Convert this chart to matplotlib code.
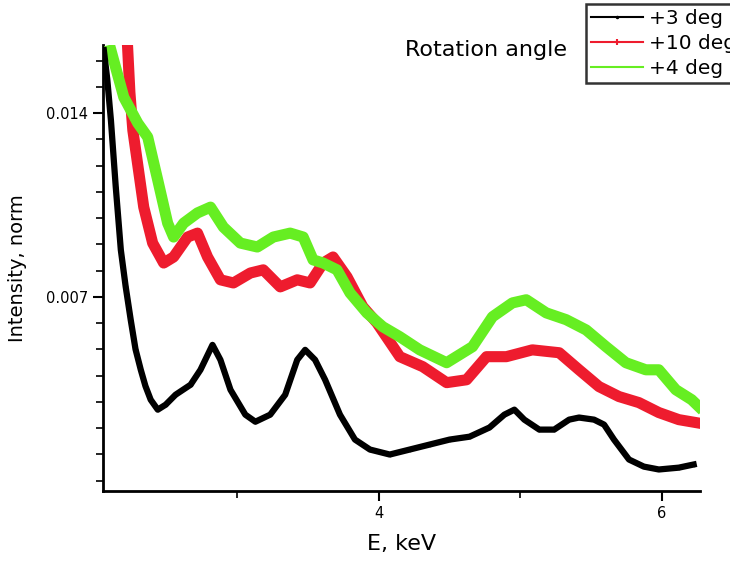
import matplotlib
matplotlib.use("Agg")
import matplotlib.pyplot as plt
from matplotlib.ticker import MultipleLocator, FixedLocator

# Energy (keV) and normalized intensity
e_3deg = [2.056, 2.08, 2.106, 2.14, 2.176, 2.21, 2.246, 2.28, 2.317, 2.35, 2.387, 2.437,
          2.493, 2.563, 2.669, 2.739, 2.824, 2.880, 2.951, 3.056, 3.127, 3.232, 3.338,
          3.423, 3.479, 3.549, 3.620, 3.725, 3.831, 3.937, 4.077, 4.218, 4.359, 4.500,
          4.641, 4.782, 4.887, 4.958, 5.028, 5.134, 5.239, 5.345, 5.415, 5.521, 5.592,
          5.662, 5.768, 5.873, 5.979, 6.120, 6.225]
i_3deg = [0.01640, 0.01530, 0.01373, 0.01120, 0.00879, 0.00740, 0.00612, 0.00500, 0.00422,
          0.00360, 0.00308, 0.00270, 0.00289, 0.00327, 0.00365, 0.00422, 0.00517, 0.00460,
          0.00346, 0.00251, 0.00224, 0.00251, 0.00327, 0.00460, 0.00498, 0.00460, 0.00384,
          0.00251, 0.00156, 0.00118, 0.00099, 0.00118, 0.00137, 0.00156, 0.00167, 0.00202,
          0.00251, 0.00270, 0.00232, 0.00194, 0.00194, 0.00232, 0.00240, 0.00232, 0.00213,
          0.00156, 0.00080, 0.00053, 0.00042, 0.00049, 0.00061]

e_10deg = [2.225, 2.240, 2.261, 2.338, 2.401, 2.479, 2.549, 2.648, 2.718, 2.789, 2.880, 2.972,
           3.092, 3.183, 3.303, 3.423, 3.514, 3.606, 3.676, 3.775, 3.887, 3.986, 4.148,
           4.310, 4.479, 4.620, 4.761, 4.901, 5.085, 5.275, 5.415, 5.556, 5.697, 5.838,
           5.979, 6.120, 6.239]
i_10deg = [0.01640, 0.01480, 0.01335, 0.01042, 0.00905, 0.00829, 0.00852, 0.00928, 0.00943,
           0.00852, 0.00765, 0.00753, 0.00791, 0.00803, 0.00738, 0.00765, 0.00753, 0.00829,
           0.00852, 0.00776, 0.00662, 0.00601, 0.00472, 0.00434, 0.00373, 0.00384, 0.00472,
           0.00472, 0.00498, 0.00487, 0.00422, 0.00358, 0.00320, 0.00297, 0.00259, 0.00232,
           0.00221]

e_4deg = [2.106, 2.197, 2.296, 2.366, 2.437, 2.507, 2.549, 2.620, 2.718, 2.810, 2.901,
          3.021, 3.141, 3.254, 3.373, 3.465, 3.535, 3.606, 3.704, 3.796, 3.915, 4.028,
          4.148, 4.289, 4.479, 4.662, 4.803, 4.944, 5.042, 5.183, 5.324, 5.465, 5.606,
          5.746, 5.887, 5.979, 6.099, 6.211, 6.261]
i_4deg = [0.01640, 0.01461, 0.01362, 0.01309, 0.01145, 0.00981, 0.00928, 0.00981, 0.01020,
          0.01042, 0.00966, 0.00905, 0.00890, 0.00928, 0.00943, 0.00928, 0.00841, 0.00829,
          0.00803, 0.00715, 0.00639, 0.00586, 0.00548, 0.00498, 0.00449, 0.00510, 0.00624,
          0.00677, 0.00689, 0.00639, 0.00613, 0.00574, 0.00510, 0.00449, 0.00422, 0.00422,
          0.00346, 0.00308, 0.00282]

series_labels = ["+3 deg", "+10 deg", "+4 deg"]
series_colors = ["#000000", "#ee1c2e", "#66ee22"]

fig = plt.figure(figsize=(7.30, 5.61), dpi=100)
ax = fig.add_axes([103 / 730, 1 - 491 / 561, (700 - 103) / 730, (491 - 45) / 561])

ax.plot(e_10deg, i_10deg, color=series_colors[1], lw=8, solid_joinstyle="round",
        marker="+", ms=4, mew=1.5, label=series_labels[1], zorder=2)
ax.plot(e_4deg, i_4deg, color=series_colors[2], lw=8, solid_joinstyle="round",
        label=series_labels[2], zorder=3)
ax.plot(e_3deg, i_3deg, color=series_colors[0], lw=4.5, solid_joinstyle="round",
        marker=".", ms=3, label=series_labels[0], zorder=4)

ax.set_xlim(2.05, 6.27)
ax.set_ylim(-0.0004, 0.0166)

ax.xaxis.set_major_locator(FixedLocator([4, 6]))
ax.xaxis.set_minor_locator(FixedLocator([3, 5]))
ax.yaxis.set_major_locator(FixedLocator([0.007, 0.014]))
ax.yaxis.set_minor_locator(MultipleLocator(0.001))
ax.set_xticklabels(["4", "6"])
ax.set_yticklabels(["0.007", "0.014"])
ax.tick_params(axis="both", which="major", direction="out", length=7, width=1.5, labelsize=10.5)
ax.tick_params(axis="both", which="minor", direction="out", length=5, width=1.2)

for s in ["top", "right"]:
    ax.spines[s].set_visible(False)
for s in ["left", "bottom"]:
    ax.spines[s].set_linewidth(2)

ax.set_xlabel("E, keV", fontsize=16, labelpad=10)
ax.set_ylabel("Intensity, norm", fontsize=14, labelpad=14)

handles, labels = ax.get_legend_handles_labels()
order = [2, 0, 1]
leg = fig.legend([handles[i] for i in order], [labels[i] for i in order],
                 loc="upper left", bbox_to_anchor=(586 / 730, 1 - 4 / 561),
                 fontsize=14.5, frameon=True, fancybox=False, edgecolor="black",
                 handlelength=2.6, handletextpad=0.3, borderpad=0.25, labelspacing=0.3,
                 borderaxespad=0)
leg.get_frame().set_linewidth(1.8)
for lh in leg.get_lines():
    lh.set_linewidth(1.5)

fig.text(405 / 730, 1 - 50 / 561, "Rotation angle", fontsize=16, va="center", ha="left")

fig.savefig("out.png", dpi=100)
